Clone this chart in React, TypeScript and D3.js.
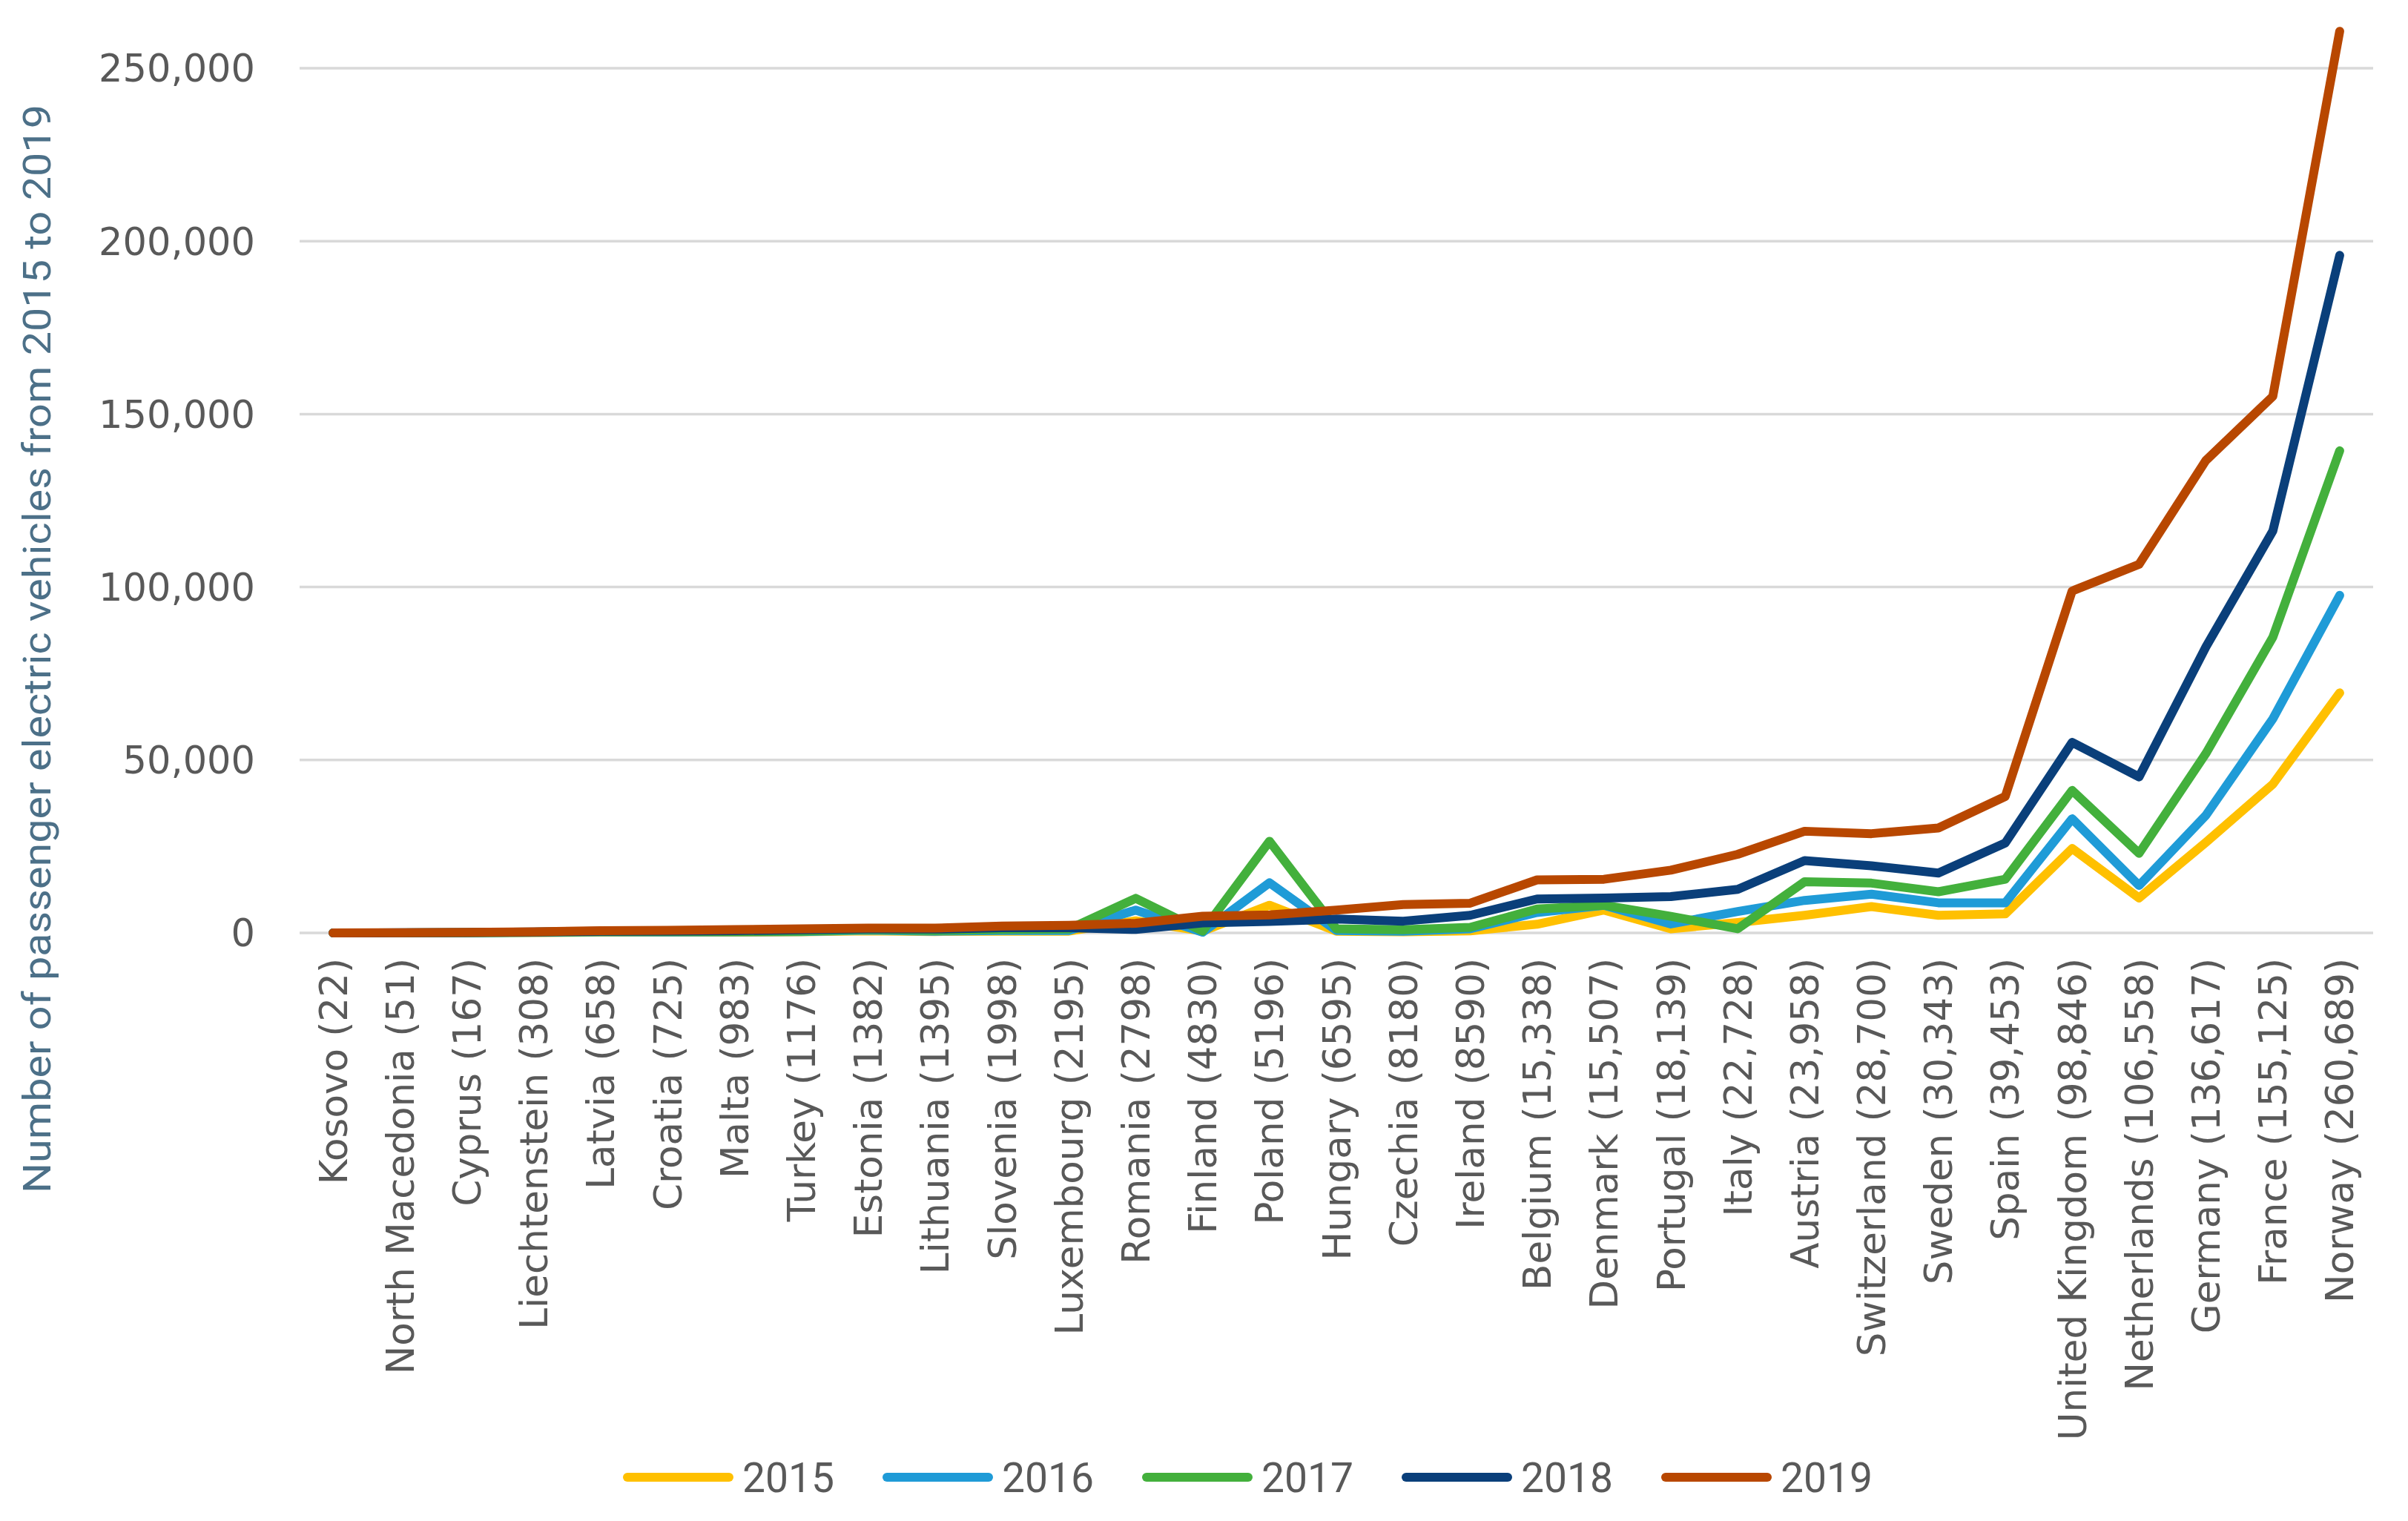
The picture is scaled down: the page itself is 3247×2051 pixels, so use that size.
import React, { useEffect } from "react";
import * as d3 from "d3";

const countries = [
  "Kosovo (22)", "North Macedonia (51)", "Cyprus (167)", "Liechtenstein (308)", "Latvia (658)",
  "Croatia (725)", "Malta (983)", "Turkey (1176)", "Estonia (1382)", "Lithuania (1395)",
  "Slovenia (1998)", "Luxembourg (2195)", "Romania (2798)", "Finland (4830)", "Poland (5196)",
  "Hungary (6595)", "Czechia (8180)", "Ireland (8590)", "Belgium (15,338)", "Denmark (15,507)",
  "Portugal (18,139)", "Italy (22,728)", "Austria (23,958)", "Switzerland (28,700)", "Sweden (30,343)",
  "Spain (39,453)", "United Kingdom (98,846)", "Netherlands (106,558)", "Germany (136,617)",
  "France (155,125)", "Norway (260,689)",
];

const v2015 = [1, 5, 30, 100, 200, 200, 200, 300, 600, 400, 500, 500, 3500, 500, 8000, 500, 300, 600, 2500, 6600, 1200, 3000, 5100, 7600, 5100, 5500, 24400, 10100, 26200, 43000, 69400];
const v2016 = [3, 10, 40, 150, 300, 250, 300, 400, 800, 500, 700, 700, 6600, 200, 14500, 700, 500, 1200, 5900, 8000, 2600, 6200, 9400, 11200, 8700, 8700, 33000, 13700, 34000, 61900, 97600];
const v2017 = [5, 20, 60, 200, 400, 350, 400, 500, 1000, 700, 1000, 1100, 10000, 500, 26500, 1200, 900, 1600, 6900, 8000, 4800, 1200, 14800, 14400, 11900, 15500, 41200, 23000, 51900, 85500, 139400];
const v2018 = [10, 30, 100, 250, 500, 550, 650, 900, 1200, 1100, 1500, 1500, 1000, 2900, 3300, 4000, 3400, 5100, 9800, 10100, 10500, 12600, 20900, 19400, 17300, 26000, 55100, 45100, 82700, 116200, 195900];
const v2019 = [22, 51, 167, 308, 658, 725, 983, 1176, 1382, 1395, 1998, 2195, 2798, 4830, 5196, 6595, 8180, 8590, 15338, 15507, 18139, 22728, 29400, 28700, 30343, 39453, 98846, 106558, 136617, 155125, 260689];

const seriesNames = ["2015", "2016", "2017", "2018", "2019"];
const seriesColors = ["#FFC000", "#1F9BD7", "#43B03C", "#0A3F7A", "#B84700"];
const yTicks = [0, 50000, 100000, 150000, 200000, 250000];

const W = 3247;
const H = 2051;
const plotLeft = 404;
const plotRight = 3200;
const yZero = 1258;
const yTop = 92;

export default function App() {
  useEffect(() => {
    document.body.style.margin = "0";
  }, []);

  const allSeries = [v2015, v2016, v2017, v2018, v2019];
  const x = d3.scaleBand<string>().domain(countries).range([plotLeft, plotRight]).padding(0);
  const y = d3.scaleLinear().domain([0, 250000]).range([yZero, yTop]);
  const cx = (c: string) => (x(c) as number) + x.bandwidth() / 2;
  const line = d3
    .line<number>()
    .x((_, i) => cx(countries[i]))
    .y((d) => y(d));
  const fmt = d3.format(",");

  const legendStart = 840;
  const legendStep = 350;
  const legendY = 1992;

  return (
    <svg
      width={W}
      height={H}
      viewBox={`0 0 ${W} ${H}`}
      style={{ position: "absolute", left: 0, top: 0, background: "#fff", display: "block" }}
    >
      <rect x={0} y={0} width={W} height={H} fill="#ffffff" />
      {yTicks.map((t) => (
        <g key={t}>
          <line x1={plotLeft} x2={plotRight} y1={y(t)} y2={y(t)} stroke="#D9D9D9" strokeWidth={3.5} />
          <text
            x={344}
            y={y(t)}
            dy="0.36em"
            textAnchor="end"
            fontFamily="DejaVu Sans, Verdana, sans-serif"
            fontSize={51}
            fill="#595959"
          >
            {fmt(t)}
          </text>
        </g>
      ))}
      {allSeries.map((s, k) => (
        <path
          key={k}
          d={line(s) as string}
          fill="none"
          stroke={seriesColors[k]}
          strokeWidth={12}
          strokeLinejoin="round"
          strokeLinecap="round"
        />
      ))}
      {countries.map((c) => (
        <text
          key={c}
          transform={`translate(${cx(c)},1292) rotate(-90)`}
          dy="0.36em"
          textAnchor="end"
          fontFamily="DejaVu Sans, Verdana, sans-serif"
          fontSize={51.5}
          fill="#595959"
        >
          {c}
        </text>
      ))}
      <text
        transform={`translate(68,875) rotate(-90)`}
        textAnchor="middle"
        fontFamily="Liberation Sans Narrow, Roboto, sans-serif"
        fontSize={52}
        fill="#4C7088"
        textLength={1468}
        lengthAdjust="spacingAndGlyphs"
      >
        Number of passenger electric vehicles from 2015 to 2019
      </text>
      {seriesNames.map((n, k) => (
        <g key={n}>
          <line
            x1={legendStart + k * legendStep + 6}
            x2={legendStart + k * legendStep + 143}
            y1={legendY}
            y2={legendY}
            stroke={seriesColors[k]}
            strokeWidth={12}
            strokeLinecap="round"
          />
          <text
            x={legendStart + k * legendStep + 161}
            y={legendY}
            dy="0.36em"
            fontFamily="Liberation Sans Narrow, Roboto, sans-serif"
            fontSize={56}
            fill="#595959"
            textLength={124}
            lengthAdjust="spacingAndGlyphs"
          >
            {n}
          </text>
        </g>
      ))}
    </svg>
  );
}
